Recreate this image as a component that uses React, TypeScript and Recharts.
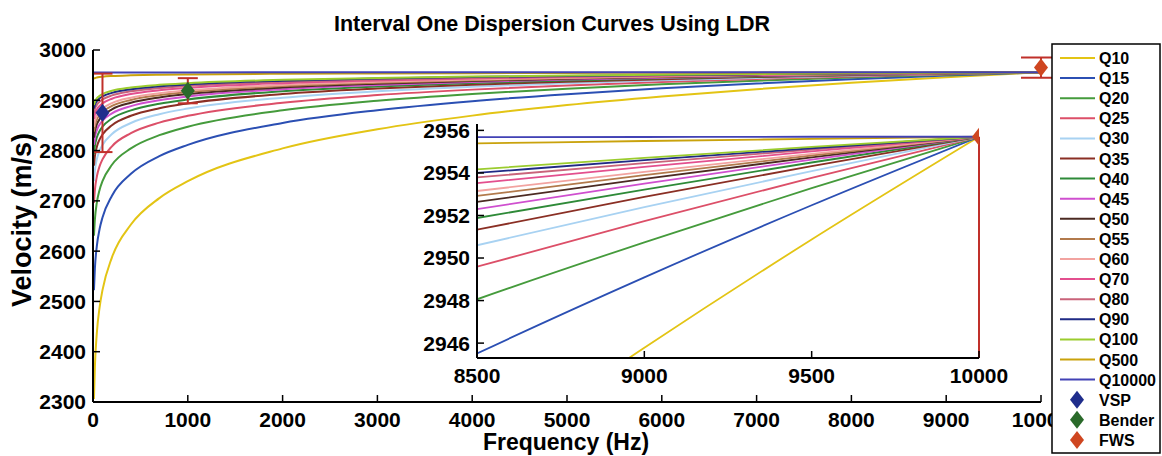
import React from "react";
import { ComposedChart, Line, Scatter, ErrorBar, XAxis, YAxis } from "recharts";

const freqs = [10, 20, 40, 70, 100, 200, 400, 700, 1000, 2000, 3000, 4000, 5000, 6000, 7000, 8000, 8500, 9000, 9500, 10000];

const q10 = [2305.8, 2371.0, 2436.2, 2488.9, 2522.4, 2587.7, 2652.9, 2705.5, 2739.1, 2804.3, 2842.4, 2869.5, 2890.5, 2907.6, 2922.1, 2934.7, 2940.41, 2945.78, 2950.87, 2955.7];
const q15 = [2522.4, 2565.9, 2609.4, 2644.5, 2666.9, 2710.3, 2753.8, 2788.9, 2811.3, 2854.8, 2880.2, 2898.2, 2912.2, 2923.7, 2933.3, 2941.7, 2945.51, 2949.09, 2952.48, 2955.7];
const q20 = [2630.8, 2663.4, 2696.0, 2722.3, 2739.1, 2771.7, 2804.3, 2830.6, 2847.4, 2880.0, 2899.1, 2912.6, 2923.1, 2931.7, 2938.9, 2945.2, 2948.06, 2950.74, 2953.29, 2955.7];
const q25 = [2695.8, 2721.8, 2747.9, 2769.0, 2782.4, 2808.5, 2834.6, 2855.6, 2869.1, 2895.1, 2910.4, 2921.2, 2929.6, 2936.5, 2942.3, 2947.3, 2949.59, 2951.73, 2953.77, 2955.7];
const q30 = [2739.1, 2760.8, 2782.5, 2800.1, 2811.3, 2833.0, 2854.8, 2872.3, 2883.5, 2905.2, 2917.9, 2927.0, 2934.0, 2939.7, 2944.5, 2948.7, 2950.6, 2952.39, 2954.09, 2955.7];
const q35 = [2770.0, 2788.7, 2807.3, 2822.3, 2831.9, 2850.5, 2869.2, 2884.2, 2893.8, 2912.4, 2923.3, 2931.1, 2937.1, 2942.0, 2946.1, 2949.7, 2951.33, 2952.87, 2954.32, 2955.7];
const q40 = [2793.2, 2809.5, 2825.8, 2839.0, 2847.4, 2863.7, 2880.0, 2893.2, 2901.5, 2917.9, 2927.4, 2934.2, 2939.4, 2943.7, 2947.3, 2950.5, 2951.88, 2953.22, 2954.49, 2955.7];
const q45 = [2811.3, 2825.8, 2840.2, 2852.0, 2859.4, 2873.9, 2888.4, 2900.1, 2907.6, 2922.0, 2930.5, 2936.5, 2941.2, 2945.0, 2948.2, 2951.0, 2952.3, 2953.5, 2954.63, 2955.7];
const q50 = [2825.7, 2838.7, 2851.8, 2862.3, 2869.0, 2882.1, 2895.1, 2905.7, 2912.4, 2925.4, 2933.0, 2938.5, 2942.7, 2946.1, 2949.0, 2951.5, 2952.64, 2953.72, 2954.73, 2955.7];
const q55 = [2837.6, 2849.4, 2861.3, 2870.9, 2877.0, 2888.8, 2900.7, 2910.2, 2916.3, 2928.2, 2935.1, 2940.0, 2943.9, 2947.0, 2949.6, 2951.9, 2952.92, 2953.9, 2954.82, 2955.7];
const q60 = [2847.4, 2858.3, 2869.1, 2877.9, 2883.5, 2894.4, 2905.2, 2914.0, 2919.6, 2930.5, 2936.8, 2941.3, 2944.8, 2947.7, 2950.1, 2952.2, 2953.15, 2954.05, 2954.9, 2955.7];
const q70 = [2862.9, 2872.2, 2881.5, 2889.0, 2893.8, 2903.1, 2912.4, 2920.0, 2924.8, 2934.1, 2939.5, 2943.4, 2946.4, 2948.8, 2950.9, 2952.7, 2953.52, 2954.28, 2955.01, 2955.7];
const q80 = [2874.5, 2882.6, 2890.8, 2897.4, 2901.5, 2909.7, 2917.8, 2924.4, 2928.6, 2936.8, 2941.5, 2944.9, 2947.5, 2949.7, 2951.5, 2953.1, 2953.79, 2954.46, 2955.1, 2955.7];
const q90 = [2883.5, 2890.8, 2898.0, 2903.9, 2907.6, 2914.8, 2922.1, 2927.9, 2931.6, 2938.9, 2943.1, 2946.1, 2948.5, 2950.4, 2952.0, 2953.4, 2954.0, 2954.6, 2955.16, 2955.7];
const q100 = [2890.7, 2897.2, 2903.7, 2909.0, 2912.4, 2918.9, 2925.4, 2930.7, 2934.0, 2940.6, 2944.4, 2947.1, 2949.2, 2950.9, 2952.3, 2953.6, 2954.17, 2954.71, 2955.22, 2955.7];
const q500 = [2942.7, 2944.0, 2945.3, 2946.4, 2947.0, 2948.3, 2949.6, 2950.7, 2951.4, 2952.7, 2953.4, 2954.0, 2954.4, 2954.7, 2955.0, 2955.3, 2955.39, 2955.5, 2955.6, 2955.7];
const q10000 = [2955.05, 2955.12, 2955.18, 2955.23, 2955.27, 2955.33, 2955.4, 2955.45, 2955.48, 2955.55, 2955.59, 2955.61, 2955.63, 2955.65, 2955.67, 2955.68, 2955.68, 2955.69, 2955.7, 2955.7];

const series = [
  { name: "Q10", color: "#e3c414", values: q10 },
  { name: "Q15", color: "#2b4fb3", values: q15 },
  { name: "Q20", color: "#459b3c", values: q20 },
  { name: "Q25", color: "#dc4f68", values: q25 },
  { name: "Q30", color: "#a8d2f2", values: q30 },
  { name: "Q35", color: "#8a2f24", values: q35 },
  { name: "Q40", color: "#2e8a38", values: q40 },
  { name: "Q45", color: "#cf4fcf", values: q45 },
  { name: "Q50", color: "#4b2a22", values: q50 },
  { name: "Q55", color: "#b27a4c", values: q55 },
  { name: "Q60", color: "#f2a3a0", values: q60 },
  { name: "Q70", color: "#e34f8e", values: q70 },
  { name: "Q80", color: "#c9637a", values: q80 },
  { name: "Q90", color: "#1f2a85", values: q90 },
  { name: "Q100", color: "#9bcc2e", values: q100 },
  { name: "Q500", color: "#c9a20c", values: q500 },
  { name: "Q10000", color: "#4242b5", values: q10000 },
];

const vsp = [{ f: 100, v: 2875, err: 78 }];
const bender = [{ f: 1000, v: 2919, err: 25 }];
const fws = [{ f: 10000, v: 2965, err: 20 }];
const fwsInset = [{ f: 10000, v: 2955.7, err: [10.4, 0] }];

const markers = [
  { name: "VSP", color: "#1f2d8c" },
  { name: "Bender", color: "#2a6a2a" },
  { name: "FWS", color: "#cf4620" },
];

const xTicks = [0, 1000, 2000, 3000, 4000, 5000, 6000, 7000, 8000, 9000, 10000];
const yTicks = [2300, 2400, 2500, 2600, 2700, 2800, 2900, 3000];
const insetXTicks = [8500, 9000, 9500, 10000];
const insetYTicks = [2946, 2948, 2950, 2952, 2954, 2956];

const rows = freqs.map((f, i) => {
  const r: any = { f };
  series.forEach((s) => (r[s.name] = s.values[i]));
  return r;
});

const FONT = "'Liberation Sans', Arial, Helvetica, sans-serif";
const tickStyle = { fill: "#000", fontSize: 21, fontWeight: 700, fontFamily: FONT };
const axisLine = { stroke: "#000", strokeWidth: 2 };
const tickLine = { stroke: "#000", strokeWidth: 1.5 };
const errColor = "#c0302a";

const Diamond = (props: any) => {
  const { cx, cy, fill } = props;
  if (cx == null || cy == null) return null;
  return <polygon points={`${cx},${cy - 9} ${cx + 7},${cy} ${cx},${cy + 9} ${cx - 7},${cy}`} fill={fill} />;
};

const blank = () => "";

export default function App() {
  return (
    <div style={{ position: "absolute", left: 0, top: 0, width: 1162, height: 456, background: "#fff", overflow: "hidden" }}>
      <div style={{ position: "absolute", left: 0, top: 0 }}>
        <ComposedChart width={1162} height={456} data={rows} margin={{ top: 50, right: 121, bottom: 24, left: 23 }}>
          <XAxis dataKey="f" type="number" domain={[0, 10000]} ticks={xTicks} interval={0} height={30}
            tickSize={-7} tickMargin={17} axisLine={axisLine} tickLine={tickLine} tick={tickStyle} />
          <XAxis xAxisId="top" orientation="top" type="number" domain={[0, 10000]} ticks={xTicks} interval={0} height={0}
            allowDataOverflow tickSize={-7} axisLine={axisLine} tickLine={tickLine} tickFormatter={blank} />
          <YAxis type="number" domain={[2300, 3000]} ticks={yTicks} interval={0} width={70}
            tickSize={-7} tickMargin={14} axisLine={axisLine} tickLine={tickLine} tick={tickStyle} />
          <YAxis yAxisId="right" orientation="right" type="number" domain={[2300, 3000]} ticks={yTicks} interval={0} width={0}
            allowDataOverflow tickSize={-7} axisLine={axisLine} tickLine={tickLine} tickFormatter={blank} />
          {series.map((s) => (
            <Line key={s.name} type="monotone" dataKey={s.name} stroke={s.color} strokeWidth={2}
              dot={false} activeDot={false} isAnimationActive={false} />
          ))}
          <Scatter data={vsp} dataKey="v" fill={markers[0].color} shape={Diamond} isAnimationActive={false}>
            <ErrorBar dataKey="err" direction="y" width={10} stroke={errColor} strokeWidth={2} />
          </Scatter>
          <Scatter data={bender} dataKey="v" fill={markers[1].color} shape={Diamond} isAnimationActive={false}>
            <ErrorBar dataKey="err" direction="y" width={10} stroke={errColor} strokeWidth={2} />
          </Scatter>
          <Scatter data={fws} dataKey="v" fill={markers[2].color} shape={Diamond} isAnimationActive={false}>
            <ErrorBar dataKey="err" direction="y" width={20} stroke={errColor} strokeWidth={2} />
          </Scatter>
        </ComposedChart>
      </div>

      <div style={{ position: "absolute", left: 400, top: 110 }}>
        <ComposedChart width={640} height={290} data={rows} margin={{ top: 14, right: 61, bottom: 12, left: 17 }}>
          <XAxis dataKey="f" type="number" domain={[8500, 10000]} ticks={insetXTicks} interval={0} height={30}
            allowDataOverflow tickSize={-7} tickMargin={17} axisLine={axisLine} tickLine={tickLine} tick={tickStyle} />
          <XAxis xAxisId="top" orientation="top" type="number" domain={[8500, 10000]} ticks={insetXTicks} interval={0} height={0}
            allowDataOverflow tickSize={-7} axisLine={axisLine} tickLine={tickLine} tickFormatter={blank} />
          <YAxis type="number" domain={[2945.3, 2956.3]} ticks={insetYTicks} interval={0} width={60}
            allowDataOverflow tickSize={-7} tickMargin={14} axisLine={axisLine} tickLine={tickLine} tick={tickStyle} />
          <YAxis yAxisId="right" orientation="right" type="number" domain={[2945.3, 2956.3]} ticks={insetYTicks} interval={0} width={0}
            allowDataOverflow tickSize={-7} axisLine={axisLine} tickLine={tickLine} tickFormatter={blank} />
          {series.map((s) => (
            <Line key={s.name} type="monotone" dataKey={s.name} stroke={s.color} strokeWidth={1.8}
              dot={false} activeDot={false} isAnimationActive={false} />
          ))}
          <Scatter data={fwsInset} dataKey="v" fill={markers[2].color} shape={Diamond} isAnimationActive={false}>
            <ErrorBar dataKey="err" direction="y" width={0} stroke={errColor} strokeWidth={2} />
          </Scatter>
        </ComposedChart>
      </div>

      <svg width={1162} height={456} style={{ position: "absolute", left: 0, top: 0, pointerEvents: "none" }}>
        <text x={552} y={31} textAnchor="middle" fontFamily={FONT} fontWeight={700} fontSize={21.5}>
          Interval One Dispersion Curves Using LDR
        </text>
        <text x={566} y={450} textAnchor="middle" fontFamily={FONT} fontWeight={700} fontSize={23}>
          Frequency (Hz)
        </text>
        <text x={31} y={220} textAnchor="middle" fontFamily={FONT} fontWeight={700} fontSize={27}
          transform="rotate(-90 31 220)">
          Velocity (m/s)
        </text>

        <rect x={1052} y={44} width={108} height={409} fill="#fff" stroke="#000" strokeWidth={1.5} />
        {series.map((s, i) => (
          <g key={s.name}>
            <line x1={1060} x2={1095} y1={58 + i * 20.1} y2={58 + i * 20.1} stroke={s.color} strokeWidth={2} />
            <text x={1099} y={58 + i * 20.1 + 6} fontFamily={FONT} fontWeight={700} fontSize={16}>{s.name}</text>
          </g>
        ))}
        {markers.map((m, j) => {
          const cy = 58 + (series.length + j) * 20.1;
          return (
            <g key={m.name}>
              <polygon points={`1077,${cy - 9} 1084,${cy} 1077,${cy + 9} 1070,${cy}`} fill={m.color} />
              <text x={1099} y={cy + 6} fontFamily={FONT} fontWeight={700} fontSize={16}>{m.name}</text>
            </g>
          );
        })}
      </svg>
    </div>
  );
}
